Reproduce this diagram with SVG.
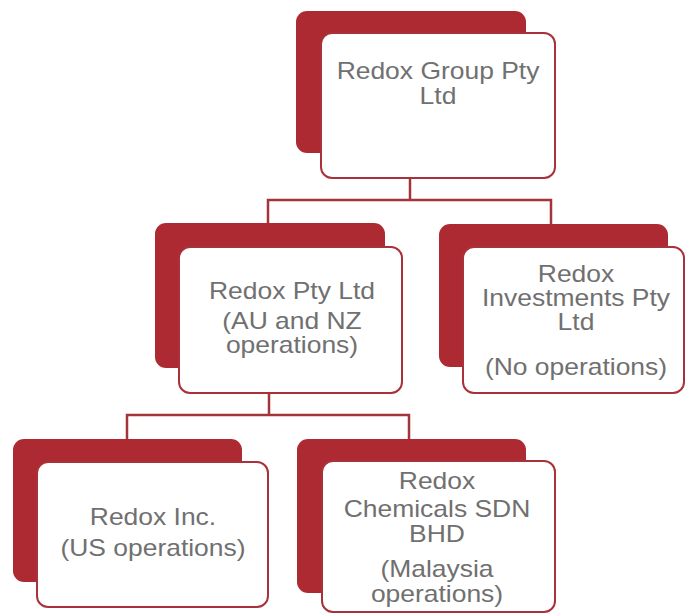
<svg xmlns="http://www.w3.org/2000/svg" width="686" height="615" viewBox="0 0 686 615">
<style>
.back{fill:#AE2A32;}
.front{fill:#FFFFFF;stroke:#A9323A;stroke-width:2;}
.conn{fill:none;stroke:#A3343A;stroke-width:2.5;}
.t{font-family:"Liberation Sans",Arial,sans-serif;font-size:23px;fill:#707070;text-anchor:middle;}
</style>
<rect width="686" height="615" fill="#FFFFFF"/>
<g id="connectors">
<polyline class="conn" points="410,178 410,200"/>
<polyline class="conn" points="268,224 268,200 551,200 551,224"/>
<polyline class="conn" points="269,393 269,415"/>
<polyline class="conn" points="127,440 127,415 409,415 409,440"/>
</g>
<g id="node-group">
<rect class="back" x="296" y="11" width="230" height="142" rx="11"/>
<rect class="front" x="321" y="33" width="234" height="145" rx="11"/>
<g transform="translate(438,0) scale(1.15,1)">
<text class="t" x="0" y="79">Redox Group Pty</text>
<text class="t" x="0" y="104">Ltd</text>
</g>
</g>
<g id="node-pty">
<rect class="back" x="155" y="223" width="230" height="145" rx="11"/>
<rect class="front" x="179" y="247" width="223" height="146" rx="11"/>
<g transform="translate(292,0) scale(1.15,1)">
<text class="t" x="0" y="299">Redox Pty Ltd</text>
<text class="t" x="0" y="329">(AU and NZ</text>
<text class="t" x="0" y="353">operations)</text>
</g>
</g>
<g id="node-investments">
<rect class="back" x="439" y="224" width="229" height="143" rx="11"/>
<rect class="front" x="463" y="247" width="221" height="146" rx="11"/>
<g transform="translate(576,0) scale(1.15,1)">
<text class="t" x="0" y="282">Redox</text>
<text class="t" x="0" y="306">Investments Pty</text>
<text class="t" x="0" y="330">Ltd</text>
<text class="t" x="0" y="375">(No operations)</text>
</g>
</g>
<g id="node-inc">
<rect class="back" x="13" y="439" width="229" height="143" rx="11"/>
<rect class="front" x="37" y="462" width="231" height="145" rx="11"/>
<g transform="translate(153,0) scale(1.15,1)">
<text class="t" x="0" y="525">Redox Inc.</text>
<text class="t" x="0" y="556">(US operations)</text>
</g>
</g>
<g id="node-chemicals">
<rect class="back" x="297" y="439" width="229" height="154" rx="11"/>
<rect class="front" x="322" y="461" width="233" height="151" rx="11"/>
<g transform="translate(437,0) scale(1.15,1)">
<text class="t" x="0" y="489">Redox</text>
<text class="t" x="0" y="517">Chemicals SDN</text>
<text class="t" x="0" y="542">BHD</text>
<text class="t" x="0" y="577">(Malaysia</text>
<text class="t" x="0" y="602">operations)</text>
</g>
</g>
</svg>
